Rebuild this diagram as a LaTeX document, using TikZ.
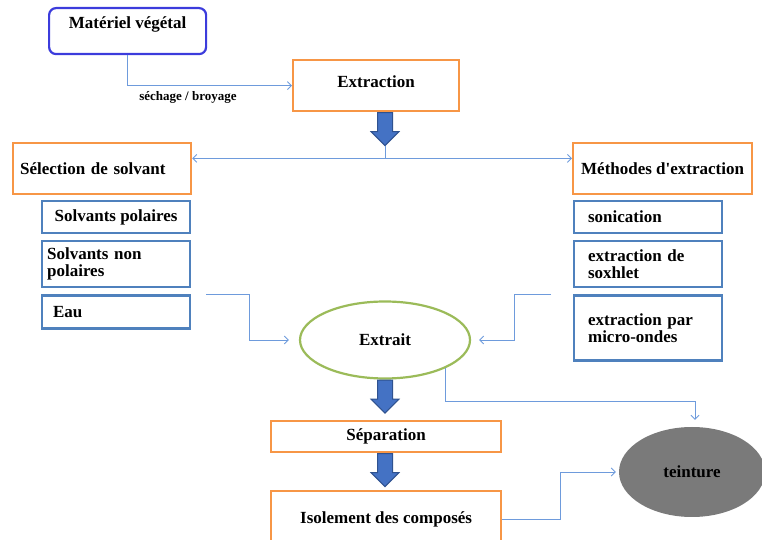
\documentclass[tikz,border=0pt]{standalone}
\usepackage{fontspec}
\setmainfont{Liberation Serif}
\usetikzlibrary{calc,shapes,shapes.arrows,arrows.meta,positioning}

\definecolor{orangebord}{RGB}{247,150,70}
\definecolor{bleubord}{RGB}{79,129,189}
\definecolor{bleuvif}{RGB}{60,60,220}
\definecolor{bleulien}{RGB}{110,155,220}
\definecolor{flechefond}{RGB}{68,114,196}
\definecolor{flechebord}{RGB}{47,82,143}
\definecolor{vertbord}{RGB}{155,187,89}
\definecolor{grisfond}{RGB}{122,122,122}

\tikzset{
  texte/.style={font=\fontsize{17}{17}\selectfont\bfseries},
  etape/.style={texte, rectangle, draw=orangebord, line width=2.2pt, inner sep=0pt},
  choix/.style={texte, rectangle, draw=bleubord, line width=2.2pt, inner sep=0pt, minimum width=148pt},
  gauche/.style 2 args={align=left, text width=#1, inner xsep=#2},
  lien/.style={draw=bleulien, line width=0.9pt, -{Straight Barb[length=4pt,width=8pt]}},
  fleche/.style={single arrow, shape border rotate=270, draw=flechebord, fill=flechefond,
    line width=1pt, minimum height=33pt, minimum width=27pt, single arrow head extend=6.5pt,
    single arrow head indent=0pt, inner sep=7pt}
}

\begin{document}
\begin{tikzpicture}[x=1pt,y=1pt]

\useasboundingbox (0,0) rectangle (762,540);
\clip (0,0) rectangle (762,540);

\node[etape, draw=bleuvif, rounded corners=7pt, anchor=north west, minimum width=157pt,
  text height=20.5pt, text depth=25.5pt] (mat) at (48,533) {Matériel végétal};
\node[etape, anchor=north west, minimum width=166pt, minimum height=51pt,
  text height=27pt, text depth=24pt] (ext) at (292,481) {Extraction};
\node[font=\fontsize{13}{13}\selectfont\bfseries] (broyage) at (188,443) {séchage / broyage};

\node[etape, gauche={164pt}{7pt}, anchor=north west, minimum height=51pt] (sel) at (12,398) {Sélection de solvant};
\node[etape, anchor=north west, minimum width=179pt, minimum height=51pt] (meth) at (572,398) {Méthodes d\textquotesingle extraction};

\node[choix, anchor=north west, minimum height=32pt] (sp) at (41,340) {Solvants polaires};
\node[choix, gauche={138pt}{5pt}, minimum height=46pt, below=6pt of sp] (snp) {Solvants non\\polaires};
\node[choix, gauche={126pt}{11pt}, minimum height=33pt, below=6pt of snp] (eau) {Eau};

\node[choix, gauche={120pt}{14pt}, anchor=north west, minimum height=32pt] (soni) at (573,340) {sonication};
\node[choix, gauche={120pt}{14pt}, minimum height=46pt, below=6pt of soni] (soxh) {extraction de\\soxhlet};
\node[choix, gauche={120pt}{14pt}, minimum height=65pt, below=6pt of soxh] (micro) {extraction par\\micro-ondes};

\node[texte, ellipse, draw=vertbord, line width=2.2pt, minimum width=170pt, minimum height=77pt,
  inner sep=0pt] (extrait) at (385,200) {Extrait};
\node[etape, anchor=north west, minimum width=230pt, minimum height=31pt] (sep) at (270,120) {Séparation};
\node[etape, anchor=north west, minimum width=230pt, minimum height=56pt] (iso) at (270,50) {Isolement des composés};
\node[texte, ellipse, fill=grisfond, minimum width=146pt, minimum height=90pt, inner sep=0pt] (teint) at (692,68) {teinture};

\foreach \nom/\dep in {f1/ext.south, f2/extrait.south, f3/sep.south}
  \node[fleche, anchor=tail] (\nom) at (\dep -| extrait) {};

\draw[lien] (mat.south) |- (ext.west);
\draw[draw=bleulien, line width=0.9pt] (f1.tip) -- ++(0,-12) coordinate (jonc);
\draw[lien] (jonc) -- (jonc -| sel.east);
\draw[lien] (jonc) -- (jonc -| meth.west);
\draw[lien] ([xshift=15pt]eau.north east) -- ++(43,0) |- ([xshift=-10pt]extrait.west);
\draw[lien] ([xshift=-22pt]micro.north west) -- ++(-37,0) |- ([xshift=8pt]extrait.east);
\draw[lien] (extrait.south east) -- ++(0,-33) -| ([xshift=3pt,yshift=7pt]teint.north);
\draw[lien] (iso.east) -- ++(58,0) |- ([xshift=-3pt]teint.west);

\end{tikzpicture}
\end{document}
